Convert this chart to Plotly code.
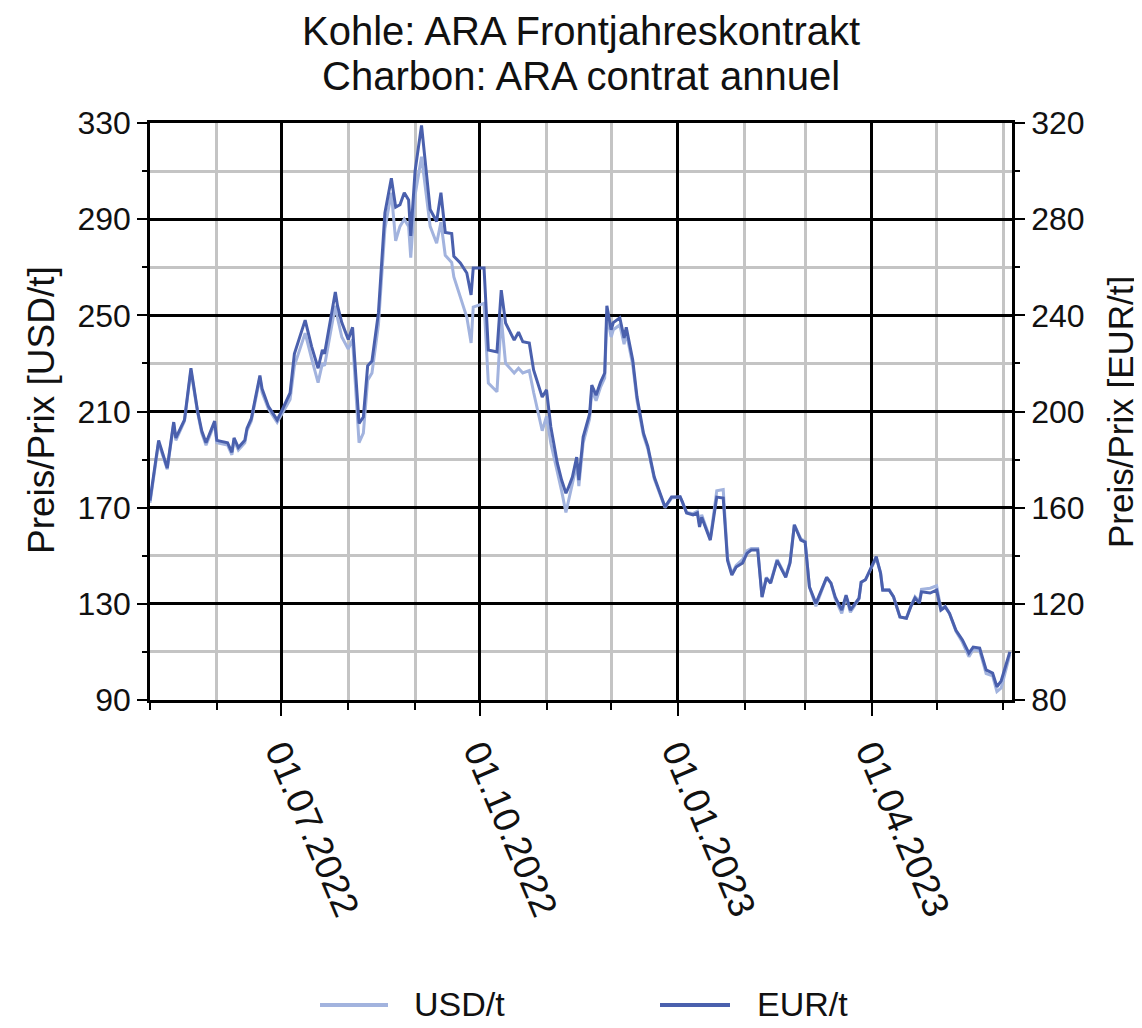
import plotly.graph_objects as go

# ---- data ----
dates = [
    "2022-05-01", "2022-05-05", "2022-05-09", "2022-05-12", "2022-05-13", "2022-05-17", "2022-05-20",
    "2022-05-23", "2022-05-25", "2022-05-27", "2022-05-31", "2022-06-01", "2022-06-06", "2022-06-08",
    "2022-06-09", "2022-06-11", "2022-06-14", "2022-06-15", "2022-06-17", "2022-06-21", "2022-06-22",
    "2022-06-25", "2022-06-29", "2022-07-01", "2022-07-05", "2022-07-07", "2022-07-12", "2022-07-15",
    "2022-07-18", "2022-07-20", "2022-07-21", "2022-07-26", "2022-07-27", "2022-07-29", "2022-08-01",
    "2022-08-03", "2022-08-06", "2022-08-08", "2022-08-10", "2022-08-12", "2022-08-15", "2022-08-18",
    "2022-08-21", "2022-08-23", "2022-08-25", "2022-08-27", "2022-08-29", "2022-08-30", "2022-09-01",
    "2022-09-04", "2022-09-08", "2022-09-11", "2022-09-13", "2022-09-15", "2022-09-18", "2022-09-19",
    "2022-09-22", "2022-09-25", "2022-09-27", "2022-09-28", "2022-10-03", "2022-10-05", "2022-10-09",
    "2022-10-11", "2022-10-13", "2022-10-17", "2022-10-19", "2022-10-21", "2022-10-24", "2022-10-26",
    "2022-10-30", "2022-11-01", "2022-11-03", "2022-11-06", "2022-11-08", "2022-11-10", "2022-11-11",
    "2022-11-13", "2022-11-15", "2022-11-16", "2022-11-18", "2022-11-21", "2022-11-22", "2022-11-24",
    "2022-11-26", "2022-11-28", "2022-11-29", "2022-12-01", "2022-12-02", "2022-12-05", "2022-12-07",
    "2022-12-08", "2022-12-11", "2022-12-13", "2022-12-16", "2022-12-18", "2022-12-21", "2022-12-26",
    "2022-12-29", "2023-01-02", "2023-01-03", "2023-01-05", "2023-01-08", "2023-01-10", "2023-01-11",
    "2023-01-12", "2023-01-16", "2023-01-19", "2023-01-22", "2023-01-24", "2023-01-26", "2023-01-28",
    "2023-01-31", "2023-02-02", "2023-02-04", "2023-02-07", "2023-02-09", "2023-02-11", "2023-02-13",
    "2023-02-16", "2023-02-20", "2023-02-22", "2023-02-24", "2023-02-27", "2023-03-01", "2023-03-03",
    "2023-03-06", "2023-03-08", "2023-03-11", "2023-03-13", "2023-03-15", "2023-03-18", "2023-03-20",
    "2023-03-22", "2023-03-26", "2023-03-27", "2023-03-29", "2023-04-03", "2023-04-05", "2023-04-06",
    "2023-04-09", "2023-04-11", "2023-04-14", "2023-04-17", "2023-04-19", "2023-04-21", "2023-04-23",
    "2023-04-24", "2023-04-28", "2023-05-01", "2023-05-02", "2023-05-03", "2023-05-05", "2023-05-07",
    "2023-05-10", "2023-05-13", "2023-05-16", "2023-05-18", "2023-05-21", "2023-05-24", "2023-05-27",
    "2023-05-29", "2023-05-31", "2023-06-02", "2023-06-04",
]

usd_t = [
    172, 197, 186, 205, 198, 206, 227,
    210, 201, 196, 205, 197, 196, 192,
    198, 194, 197, 202, 206, 224, 218,
    211, 205.5, 208.5, 215, 229, 242.6, 232,
    222, 230, 229, 254, 249, 241, 236,
    240, 197, 201, 223, 226, 246, 286,
    301, 281, 287, 290, 287, 274, 300,
    316, 287, 280, 288.7, 275, 272, 266,
    257.6, 249.3, 238.5, 253.4, 255, 221.8, 218.2,
    249, 230, 226, 228, 226, 227, 218,
    202, 208, 196.8, 185.6, 177, 168, 172,
    179, 188, 179, 197, 207, 219, 214.5,
    220, 224, 250, 241, 244, 246, 238,
    243, 229.5, 214.5, 200, 194.5, 182, 170,
    174, 174.5, 172.5, 168, 167.5, 168.5, 163,
    167, 157, 177, 177.5, 149, 142.5, 146,
    148.5, 152, 153, 153, 133, 141, 139,
    148.5, 141.5, 147.5, 163, 157, 156, 137,
    129, 134, 141, 138.6, 132, 126, 133,
    126.5, 132, 139, 140, 149, 143, 136,
    136, 133, 124.5, 124, 129, 133, 131,
    136, 136.5, 137.5, 132, 128, 129, 126,
    118.5, 114, 108, 111, 110.5, 101, 100,
    93.5, 95, 102, 109,
]

eur_t = [
    163, 188, 176.5, 195.6, 189, 196.5, 218,
    200.6, 192, 187, 196, 188, 187, 183,
    189, 185, 188, 193, 197, 215, 209.5,
    202, 196.5, 200, 207.7, 224, 238, 227,
    218, 225.6, 224, 249.7, 244, 237, 230,
    235, 195, 197.7, 219, 221, 241, 282.6,
    297, 285, 286, 291, 288, 273, 300,
    319, 284, 279, 291, 274.5, 274, 264.5,
    261.8, 257.6, 248.5, 259.7, 259.7, 225.6, 224.8,
    250.5, 236.8, 229.7, 233, 229, 228.5, 217.3,
    206, 209, 193.6, 178.6, 171.5, 166, 168,
    172.7, 181, 171.5, 189.4, 199, 211, 206.8,
    212, 216, 244, 234, 237, 239, 230.6,
    235, 221.4, 206, 191, 185.5, 172.7, 160.3,
    164.4, 164.5, 162.5, 157.8, 157, 157.8, 152,
    156, 146.5, 164.4, 164, 138, 132, 135.3,
    137, 141, 142.4, 142.4, 122.8, 130.7, 128.6,
    138, 131, 137, 152.8, 146.5, 145.7, 127,
    120.2, 124.5, 131, 128.6, 122.8, 117.4, 123.6,
    117.4, 122.4, 129, 130, 139.6, 132.8, 125.7,
    125.7, 123, 114.5, 114, 118.7, 122.4, 120.3,
    125, 124.5, 125.7, 120.8, 117.4, 118.7, 116,
    109, 105, 99.5, 102, 101.6, 92.5, 91.2,
    85.5, 88, 93.7, 100,
]

usd_name = "USD/t"
eur_name = "EUR/t"
title_line1 = "Kohle: ARA Frontjahreskontrakt"
title_line2 = "Charbon: ARA contrat annuel"
left_title = "Preis/Prix [USD/t]"
right_title = "Preis/Prix [EUR/t]"

# ---- style ----
FONT = "Liberation Sans, Arial, sans-serif"
USD_COLOR = "#a2b3de"
EUR_COLOR = "#4a60ad"
MAJOR = "#000000"
MINOR = "#c4c4c4"
TXT = "#111111"

# the page places the figure 8 px from the top-left corner
OFF = 8
W, H = 1142 - OFF, 1028 - OFF
PLOT_L, PLOT_R, PLOT_T, PLOT_B = 150, 1012, 123, 700   # screen pixels
L = PLOT_L - OFF
T = PLOT_T - OFF
R = W + OFF - PLOT_R
B = H + OFF - PLOT_B
PW, PH = PLOT_R - PLOT_L, PLOT_B - PLOT_T


def px_x(px):
    return (px - PLOT_L) / PW


def px_y(py):
    return (PLOT_B - py) / PH


fig = go.Figure()
fig.add_trace(go.Scatter(x=dates, y=usd_t, name=usd_name, mode="lines",
                         line=dict(color=USD_COLOR, width=3), yaxis="y"))
fig.add_trace(go.Scatter(x=dates, y=eur_t, name=eur_name, mode="lines",
                         line=dict(color=EUR_COLOR, width=3), yaxis="y2"))

ytickfont = dict(family=FONT, size=32, color=TXT)
xtickfont = dict(family=FONT, size=37, color=TXT)

fig.update_layout(
    width=W, height=H,
    margin=dict(l=L, r=R, t=T, b=B),
    paper_bgcolor="white", plot_bgcolor="white",
    showlegend=False,
    font=dict(family=FONT, color=TXT),
    xaxis=dict(
        type="date", range=["2022-05-01", "2023-06-05"],
        tickformat="%d.%m.%Y", dtick="M3", tick0="2022-07-01",
        tickangle=67, tickfont=xtickfont,
        showgrid=True, gridcolor=MAJOR, gridwidth=2.5,
        ticks="outside", ticklen=13, tickwidth=2, tickcolor=MAJOR,
        showline=True, linecolor=MAJOR, linewidth=2.5, mirror=True,
        zeroline=False,
        minor=dict(dtick="M1", tick0="2022-05-01", showgrid=True, gridcolor=MINOR,
                   gridwidth=2.5, ticks="outside", ticklen=7, tickcolor=MAJOR, tickwidth=1.5),
    ),
    yaxis=dict(
        range=[90, 330], dtick=40, tick0=90, tickfont=ytickfont,
        showgrid=True, gridcolor=MAJOR, gridwidth=2.5,
        ticks="outside", ticklen=10, tickwidth=2, tickcolor=MAJOR,
        showline=True, linecolor=MAJOR, linewidth=2.5, zeroline=False,
        minor=dict(dtick=20, tick0=90, showgrid=True, gridcolor=MINOR, gridwidth=2.5,
                   ticks="outside", ticklen=5, tickcolor=MAJOR, tickwidth=1.5),
    ),
    yaxis2=dict(
        range=[80, 320], dtick=40, tick0=80, tickfont=ytickfont,
        overlaying="y", side="right", showgrid=False,
        ticks="outside", ticklen=10, tickwidth=2, tickcolor=MAJOR,
        showline=True, linecolor=MAJOR, linewidth=2.5, zeroline=False,
        minor=dict(dtick=20, tick0=80, showgrid=False,
                   ticks="outside", ticklen=5, tickcolor=MAJOR, tickwidth=1.5),
    ),
)

annotations = [
    dict(text=title_line1, x=0.5, y=px_y(31), xref="paper", yref="paper",
         showarrow=False, font=dict(family=FONT, size=40, color=TXT),
         xanchor="center", yanchor="middle"),
    dict(text=title_line2, x=0.5, y=px_y(76), xref="paper", yref="paper",
         showarrow=False, font=dict(family=FONT, size=40, color=TXT),
         xanchor="center", yanchor="middle"),
    dict(text=left_title, x=px_x(41), y=px_y(410), xref="paper", yref="paper",
         showarrow=False, textangle=-90, font=dict(family=FONT, size=37, color=TXT),
         xanchor="center", yanchor="middle"),
    dict(text=right_title, x=px_x(1120), y=px_y(412), xref="paper", yref="paper",
         showarrow=False, textangle=-90, font=dict(family=FONT, size=35, color=TXT),
         xanchor="center", yanchor="middle"),
    dict(text=usd_name, x=px_x(412), y=px_y(1004), xref="paper", yref="paper",
         showarrow=False, font=dict(family=FONT, size=34, color=TXT),
         xanchor="left", yanchor="middle"),
    dict(text=eur_name, x=px_x(755), y=px_y(1004), xref="paper", yref="paper",
         showarrow=False, font=dict(family=FONT, size=34, color=TXT),
         xanchor="left", yanchor="middle"),
]
fig.update_layout(annotations=annotations)

shapes = [
    dict(type="line", xref="paper", yref="paper", x0=px_x(320), x1=px_x(388),
         y0=px_y(1005), y1=px_y(1005), line=dict(color=USD_COLOR, width=4)),
    dict(type="line", xref="paper", yref="paper", x0=px_x(660), x1=px_x(730),
         y0=px_y(1005), y1=px_y(1005), line=dict(color=EUR_COLOR, width=4)),
]
fig.update_layout(shapes=shapes)

fig.write_html("out.html")
